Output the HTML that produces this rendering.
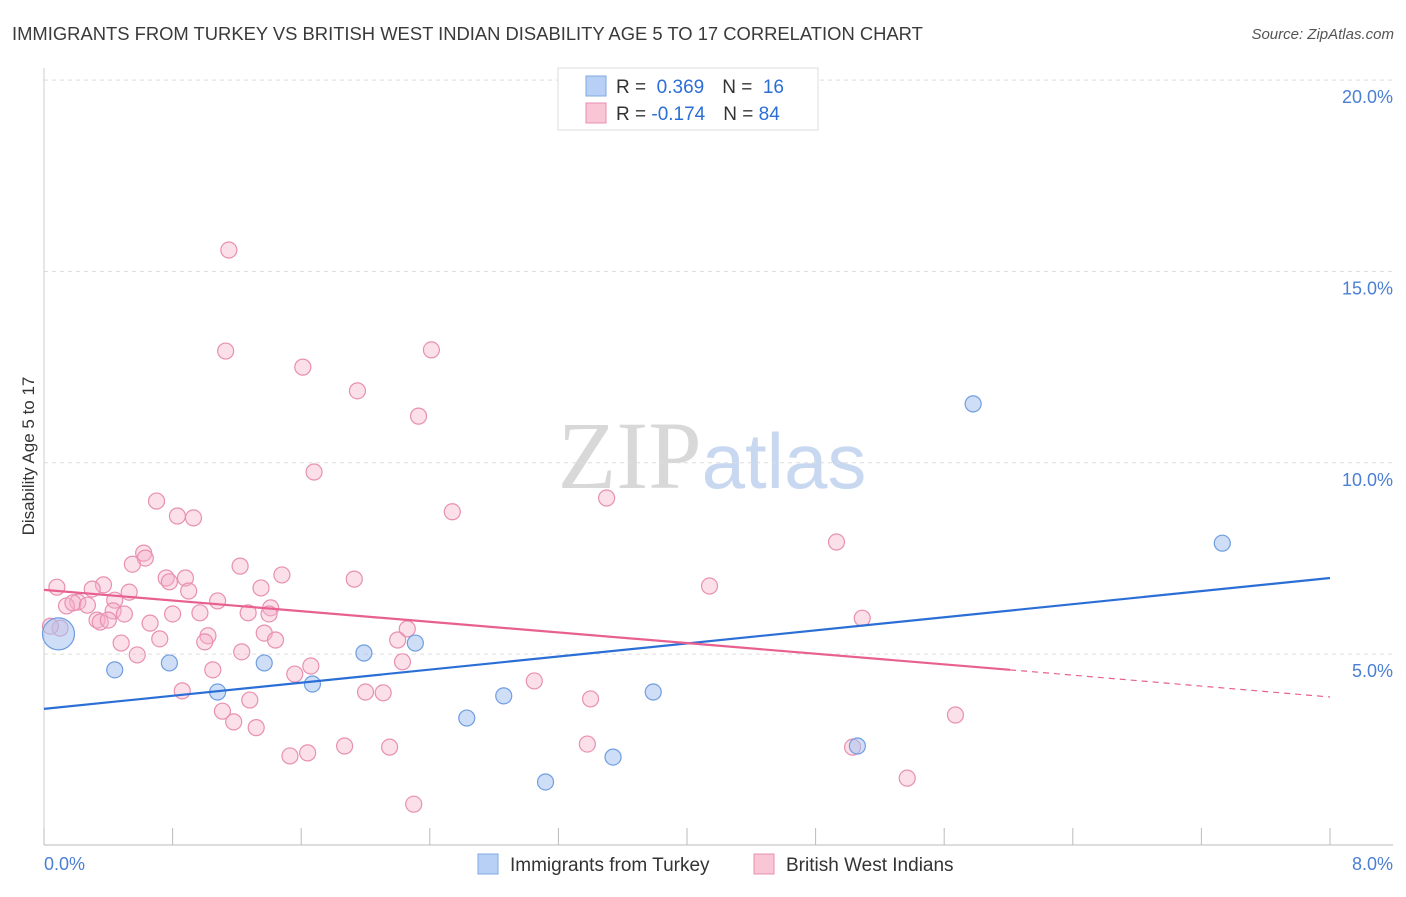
<!DOCTYPE html>
<html><head><meta charset="utf-8"><style>
body{margin:0;background:#fff;font-family:"Liberation Sans",sans-serif;}
svg text{font-family:"Liberation Sans",sans-serif;}
</style></head><body>
<svg id="chart" width="1406" height="892" xmlns="http://www.w3.org/2000/svg">
<text x="12" y="40" font-size="18.4" fill="#3a3a3a">IMMIGRANTS FROM TURKEY VS BRITISH WEST INDIAN DISABILITY AGE 5 TO 17 CORRELATION CHART</text>
<text x="1394" y="39" font-size="15" fill="#555" font-style="italic" text-anchor="end">Source: ZipAtlas.com</text>
<text x="712" y="488" font-size="96" text-anchor="middle"><tspan fill="#d8d8d8" font-family="Liberation Serif, serif">ZIP</tspan><tspan fill="#c8d8f0" font-size="78">atlas</tspan></text>
<text transform="translate(34,456) rotate(-90)" font-size="17" fill="#333" text-anchor="middle">Disability Age 5 to 17</text>
<g id="grid"></g><g id="ticks"></g>
<g id="pink-pts"></g><g id="blue-pts"></g><g id="lines"></g>
<text x="44" y="870" font-size="18" fill="#4a7fd4">0.0%</text>
<text x="1393" y="870" font-size="18" fill="#4a7fd4" text-anchor="end">8.0%</text>
<g>
<rect x="558" y="68" width="260" height="62" fill="#fff" stroke="#ddd"/>
<rect x="586" y="76" width="20" height="20" fill="#b8d0f5" stroke="#7fa8e0"/>
<rect x="586" y="103" width="20" height="20" fill="#f9c6d6" stroke="#e890b0"/>
<text x="616" y="93" font-size="19" fill="#333">R = <tspan fill="#2b6fd6">&#160;0.369</tspan><tspan dx="18">N = </tspan><tspan fill="#2b6fd6">&#160;16</tspan></text>
<text x="616" y="120" font-size="19" fill="#333">R = <tspan fill="#2b6fd6">-0.174</tspan><tspan dx="18">N = </tspan><tspan fill="#2b6fd6">84</tspan></text>
</g>
<g>
<rect x="478" y="854" width="20" height="20" fill="#b8d0f5" stroke="#7fa8e0"/>
<text x="510" y="871" font-size="19" fill="#333">Immigrants from Turkey</text>
<rect x="754" y="854" width="20" height="20" fill="#f9c6d6" stroke="#e890b0"/>
<text x="786" y="871" font-size="19" fill="#333">British West Indians</text>
</g>
</svg>
<script>
const blueX=[0.09,0.44,0.78,1.08,1.37,1.67,1.99,2.31,2.63,2.86,3.12,3.54,3.79,5.06,5.78,7.33];
const blueY=[5.53,4.59,4.77,4.01,4.77,4.22,5.03,5.29,3.33,3.91,1.66,2.31,4.01,2.60,11.54,7.90];
const pinkX=[1.15,1.13,2.41,1.61,1.95,2.33,1.68,0.70,0.83,0.93,2.54,3.50,4.93,0.62,0.63,0.55,1.22,1.48,1.93,0.76,0.78,0.88,0.08,0.37,0.53,0.90,1.35,4.14,0.30,0.21,0.14,0.18,0.27,0.44,1.08,1.41,0.43,0.80,0.50,0.97,1.27,1.40,0.33,0.35,0.40,0.66,5.09,0.10,0.04,2.26,1.37,1.02,0.72,1.44,0.48,1.00,2.20,0.58,1.23,2.23,1.66,1.05,1.56,3.05,0.86,2.00,2.11,1.28,3.40,1.11,5.67,1.18,1.32,1.87,2.15,3.38,5.03,1.64,1.53,5.37,2.30];
const pinkY=[15.56,12.92,12.95,12.50,11.88,11.22,9.76,9.00,8.61,8.56,8.72,9.08,7.93,7.64,7.51,7.35,7.30,7.07,6.96,6.99,6.89,6.99,6.75,6.81,6.62,6.65,6.73,6.78,6.70,6.36,6.26,6.34,6.28,6.41,6.39,6.21,6.13,6.05,6.05,6.08,6.08,6.05,5.89,5.84,5.89,5.81,5.94,5.68,5.73,5.66,5.55,5.48,5.40,5.37,5.29,5.32,5.37,4.98,5.06,4.80,4.69,4.59,4.48,4.30,4.04,4.01,3.99,3.80,3.83,3.51,3.41,3.23,3.08,2.60,2.57,2.65,2.57,2.42,2.34,1.76,1.08];
const yTicks=[5,10,15,20];
const yTickLabels=["5.0%","10.0%","15.0%","20.0%"];
const xTicks=[0,0.8,1.6,2.4,3.2,4.0,4.8,5.6,6.4,7.2,8.0];
const blueTrend=[[0,3.57],[8,6.99]];
const pinkTrend=[[0,6.68],[6.01,4.59],[8,3.88]];
const NS="http://www.w3.org/2000/svg";
const sx=v=>44+v*160.75, sy=v=>845.5-v*38.27;
function mk(t,a,p){const e=document.createElementNS(NS,t);for(const k in a)e.setAttribute(k,a[k]);p.appendChild(e);return e;}
const grid=document.getElementById('grid'),ticks=document.getElementById('ticks');
yTicks.forEach((v,i)=>{
 const l=mk('line',{x1:44,x2:1393,y1:sy(v),y2:sy(v),stroke:'#ddd','stroke-dasharray':'4,4'},grid);
 
 
 const t=mk('text',{x:1393,y:sy(v)+23,'font-size':18,fill:'#4a7fd4','text-anchor':'end'},ticks);
 t.textContent=yTickLabels[i];
 
 
});
const ax=mk('line',{x1:44,x2:1393,y1:845,y2:845,stroke:'#bbb'},ticks);


const ay=mk('line',{x1:44,x2:44,y1:68,y2:845,stroke:'#ccc'},ticks);


xTicks.forEach(v=>{const l=mk('line',{x1:sx(v),x2:sx(v),y1:828,y2:845,stroke:'#bbb'},ticks);
 
 });
const pg=document.getElementById('pink-pts');
pinkX.forEach((x,i)=>{const c=mk('circle',{cx:sx(x),cy:sy(pinkY[i]),r:8,fill:'rgba(246,175,200,0.4)',stroke:'#e890b0','stroke-width':1.2},pg);
 
 });
const bg=document.getElementById('blue-pts');
blueX.forEach((x,i)=>{const c=mk('circle',{cx:sx(x),cy:sy(blueY[i]),r:i===0?16:8,fill:'rgba(165,195,240,0.55)',stroke:'#6f9de0','stroke-width':1.2},bg);
 
 });
const lg=document.getElementById('lines');
const bl=mk('line',{x1:sx(blueTrend[0][0]),y1:sy(blueTrend[0][1]),x2:sx(blueTrend[1][0]),y2:sy(blueTrend[1][1]),stroke:'#2b6fd6','stroke-width':2.2},lg);


const pl=mk('line',{x1:sx(pinkTrend[0][0]),y1:sy(pinkTrend[0][1]),x2:sx(pinkTrend[1][0]),y2:sy(pinkTrend[1][1]),stroke:'#e8608f','stroke-width':2.2},lg);


const pd=mk('line',{x1:sx(pinkTrend[1][0]),y1:sy(pinkTrend[1][1]),x2:sx(pinkTrend[2][0]),y2:sy(pinkTrend[2][1]),stroke:'#e8608f','stroke-width':1.2,'stroke-dasharray':'6,5'},lg);


</script>
</body></html>
